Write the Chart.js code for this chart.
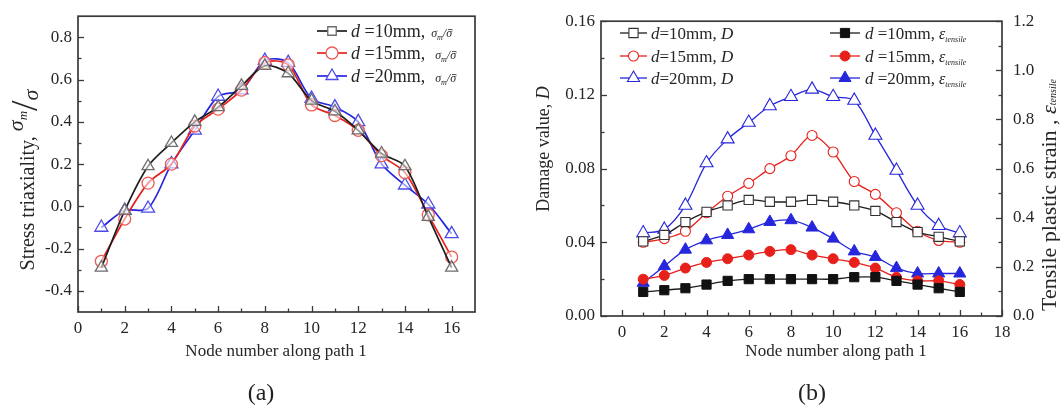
<!DOCTYPE html>
<html>
<head>
<meta charset="utf-8">
<script src="https://cdn.jsdelivr.net/npm/chart.js@4.4.1/dist/chart.umd.min.js"></script>
<style>
  html, body { margin: 0; padding: 0; background: #fff; }
  #wrap { position: relative; width: 1060px; height: 408px; overflow: hidden; background: #fff; }
  .pane { position: absolute; top: 0; width: 530px; height: 408px; }
  #pa { left: 0; }
  #pb { left: 530px; }
  .cap { position: absolute; top: 378px; transform: translateX(-50%); font: 24px "Liberation Serif", "Times New Roman", serif; color: #222; line-height: 28px; }
</style>
</head>
<body>
<div id="wrap">
  <div class="pane" id="pa"><canvas id="ca" width="530" height="408"></canvas></div>
  <div class="pane" id="pb"><canvas id="cb" width="530" height="408"></canvas></div>
  <div class="cap" style="left:261px">(a)</div>
  <div class="cap" style="left:812px">(b)</div>
</div>
<script>
// ---------- data ----------
const nodes = [1, 2, 3, 4, 5, 6, 7, 8, 9, 10, 11, 12, 13, 14, 15, 16];

// (a) stress triaxiality sigma_m / sigma_bar along path 1
const triaxD10 = [-0.29, -0.02, 0.19, 0.30, 0.40, 0.47, 0.57, 0.665, 0.63, 0.50, 0.45, 0.36, 0.25, 0.19, -0.05, -0.29];
const triaxD15 = [-0.26, -0.06, 0.11, 0.20, 0.38, 0.46, 0.55, 0.68, 0.67, 0.48, 0.43, 0.36, 0.24, 0.16, -0.04, -0.24];
const triaxD20 = [-0.10, -0.02, -0.01, 0.20, 0.36, 0.52, 0.55, 0.69, 0.68, 0.51, 0.47, 0.40, 0.20, 0.10, 0.01, -0.13];

// (b) damage value D (left axis)
const damageD10 = [0.0405, 0.044, 0.051, 0.0565, 0.060, 0.063, 0.062, 0.062, 0.063, 0.062, 0.060, 0.057, 0.051, 0.0455, 0.043, 0.0405];
const damageD15 = [0.040, 0.042, 0.046, 0.056, 0.065, 0.072, 0.080, 0.087, 0.098, 0.089, 0.073, 0.066, 0.056, 0.046, 0.041, 0.040];
const damageD20 = [0.045, 0.047, 0.060, 0.083, 0.096, 0.105, 0.114, 0.119, 0.123, 0.119, 0.117, 0.098, 0.079, 0.060, 0.049, 0.045];

// (b) tensile plastic strain (right axis)
const strainD10 = [0.098, 0.105, 0.113, 0.128, 0.143, 0.150, 0.150, 0.150, 0.150, 0.150, 0.158, 0.158, 0.143, 0.128, 0.113, 0.098];
const strainD15 = [0.150, 0.165, 0.195, 0.218, 0.233, 0.248, 0.263, 0.270, 0.248, 0.233, 0.218, 0.195, 0.158, 0.143, 0.143, 0.128];
const strainD20 = [0.135, 0.203, 0.270, 0.308, 0.330, 0.353, 0.383, 0.390, 0.360, 0.315, 0.263, 0.240, 0.195, 0.173, 0.173, 0.173];

// tick values
const xTicksA = [0, 2, 4, 6, 8, 10, 12, 14, 16];
const yTicksA = [-0.4, -0.2, 0.0, 0.2, 0.4, 0.6, 0.8];
const xTicksB = [0, 2, 4, 6, 8, 10, 12, 14, 16, 18];
const yTicksDamage = [0.00, 0.04, 0.08, 0.12, 0.16];
const yTicksStrain = [0.0, 0.2, 0.4, 0.6, 0.8, 1.0, 1.2];

// ---------- styling helpers ----------
const SERIF = '"Liberation Serif", "Times New Roman", serif';
const TEXT = '#262626';
const AXIS = '#3a3a3a';
const BLACK = '#1e1e1e', GREY = '#6c6c6c', RED = '#e8201c', BLUE = '#2626dc';

function fnt(size, italic) { return (italic ? 'italic ' : '') + size + 'px ' + SERIF; }
function pts(vals) { return nodes.map((n, i) => ({ x: n, y: vals[i] })); }

// mixed-font text run; align 'center' or 'left' along the run direction
function richText(ctx, segs, x, y, rot, align) {
  ctx.save();
  ctx.translate(x, y);
  if (rot) ctx.rotate(rot);
  ctx.textAlign = 'left';
  ctx.textBaseline = 'alphabetic';
  let w = 0;
  for (const s of segs) { ctx.font = fnt(s.size, s.it); s._w = ctx.measureText(s.t).width; w += s._w + (s.gap || 0); }
  let cx = align === 'left' ? 0 : -w / 2;
  for (const s of segs) {
    cx += (s.gap || 0);
    ctx.font = fnt(s.size, s.it);
    ctx.fillStyle = s.color || TEXT;
    ctx.fillText(s.t, cx, s.dy || 0);
    if (s.bar) {
      // overbar (sigma bar)
      const by = (s.dy || 0) - s.size * 0.62;
      ctx.strokeStyle = s.color || TEXT;
      ctx.lineWidth = 0.8;
      ctx.beginPath(); ctx.moveTo(cx + s._w * 0.3, by); ctx.lineTo(cx + s._w * 1.05, by); ctx.stroke();
    }
    cx += s._w;
  }
  ctx.restore();
}

function marker(ctx, style, x, y, r, stroke, fill, lw) {
  ctx.save();
  ctx.beginPath();
  if (style === 'circle') {
    ctx.arc(x, y, r, 0, Math.PI * 2);
  } else if (style === 'rect') {
    const h = r * Math.SQRT1_2;
    ctx.rect(x - h, y - h, 2 * h, 2 * h);
  } else {
    let a = 0;
    for (let k = 0; k < 3; k++) {
      const px = x + Math.sin(a) * r, py = y - Math.cos(a) * r;
      if (k === 0) ctx.moveTo(px, py); else ctx.lineTo(px, py);
      a += Math.PI * 2 / 3;
    }
    ctx.closePath();
  }
  ctx.fillStyle = fill; ctx.fill();
  ctx.lineWidth = lw; ctx.strokeStyle = stroke; ctx.stroke();
  ctx.restore();
}

// frame, inward ticks, axis titles and in-plot legend
const decor = {
  id: 'decor',
  afterDraw(chart, args, o) {
    const ctx = chart.ctx, ca = chart.chartArea;
    ctx.save();
    ctx.strokeStyle = AXIS;
    ctx.lineWidth = 1.3;
    for (const id of Object.keys(chart.scales)) {
      const s = chart.scales[id];
      const vals = s.ticks.map(t => t.value);
      const minors = [];
      for (let i = 0; i < vals.length - 1; i++) minors.push((vals[i] + vals[i + 1]) / 2);
      const tick = (v, len) => {
        const p = Math.round(s.getPixelForValue(v)) + 0.5;
        ctx.beginPath();
        if (s.isHorizontal()) { ctx.moveTo(p, ca.bottom); ctx.lineTo(p, ca.bottom - len); }
        else if (s.position === 'left') { ctx.moveTo(ca.left, p); ctx.lineTo(ca.left + len, p); }
        else { ctx.moveTo(ca.right, p); ctx.lineTo(ca.right - len, p); }
        ctx.stroke();
      };
      vals.forEach(v => tick(v, 6));
      minors.forEach(v => tick(v, 3.5));
    }
    ctx.lineWidth = 1.7;
    ctx.strokeRect(ca.left, ca.top, ca.right - ca.left, ca.bottom - ca.top);
    ctx.restore();

    (o.titles || []).forEach(t => richText(ctx, t.segs, t.x, t.y, t.rot, t.align));

    (o.legend || []).forEach(e => {
      ctx.save();
      ctx.strokeStyle = e.line; ctx.lineWidth = e.lw;
      ctx.beginPath(); ctx.moveTo(e.x0, e.y); ctx.lineTo(e.x1, e.y); ctx.stroke();
      ctx.restore();
      marker(ctx, e.style, (e.x0 + e.x1) / 2, e.y, e.r, e.stroke, e.fill, e.mlw);
      richText(ctx, e.segs, e.tx, e.y + 6, 0, 'left');
    });
  }
};

function linearAxis(min, max, tickVals, digits, pos, fit, pad) {
  return {
    type: 'linear', position: pos, min: min, max: max,
    afterBuildTicks: s => { s.ticks = tickVals.map(v => ({ value: v })); },
    afterFit: s => { if (s.isHorizontal()) s.height = fit; else s.width = fit; },
    grid: { display: false, drawTicks: false },
    border: { display: false },
    ticks: {
      autoSkip: false, maxRotation: 0, padding: pad, color: TEXT,
      font: { family: SERIF, size: 17 },
      callback: v => digits === 0 ? String(v) : Number(v).toFixed(digits)
    },
    title: { display: false }
  };
}

// ---------- (a) stress triaxiality ----------
const sigSegs = (g) => [
  { t: 'σ', size: 12, it: true, gap: g },
  { t: 'm', size: 8, it: true, dy: 3 },
  { t: '/', size: 12, it: true },
  { t: 'σ', size: 12, it: true, bar: true }
];

new Chart(document.getElementById('ca'), {
  type: 'line',
  data: {
    datasets: [
      { label: 'd =10mm, σm/σ̄', data: pts(triaxD10), borderColor: BLACK, borderWidth: 1.7,
        pointStyle: 'triangle', pointRadius: 7, pointBorderColor: GREY, pointBackgroundColor: 'rgba(255,255,255,0.55)', pointBorderWidth: 1.3, tension: 0.3 },
      { label: 'd =15mm, σm/σ̄', data: pts(triaxD15), borderColor: RED, borderWidth: 1.7,
        pointStyle: 'circle', pointRadius: 6, pointBorderColor: '#ee5a55', pointBackgroundColor: 'rgba(255,255,255,0.55)', pointBorderWidth: 1.3, tension: 0.3 },
      { label: 'd =20mm, σm/σ̄', data: pts(triaxD20), borderColor: BLUE, borderWidth: 1.7,
        pointStyle: 'triangle', pointRadius: 7.5, pointBorderColor: '#4b4bea', pointBackgroundColor: 'rgba(255,255,255,0.55)', pointBorderWidth: 1.3, tension: 0.3 }
    ]
  },
  options: {
    responsive: false, animation: false, events: [],
    layout: { padding: { left: 0, right: 55, top: 12, bottom: 56 } },
    scales: {
      x: linearAxis(0, 17, xTicksA, 0, 'bottom', 40, 6),
      y: linearAxis(-0.5, 0.9, yTicksA, 1, 'left', 78, 6)
    },
    plugins: {
      legend: { display: false },
      tooltip: { enabled: false },
      decor: {
        titles: [
          { x: 276, y: 356, segs: [{ t: 'Node number along path 1', size: 17 }] },
          { x: 34, y: 180, rot: -Math.PI / 2, segs: [
            { t: 'Stress triaxiality, ', size: 20 },
            { t: 'σ', size: 22, it: true, dy: -11 },
            { t: 'm', size: 13, it: true, dy: -7 },
            { t: '/', size: 38, dy: 3 },
            { t: 'σ', size: 22, it: true, dy: 4 }
          ] }
        ],
        legend: [
          { x0: 317, x1: 347, y: 31, line: BLACK, lw: 1.7, style: 'rect', r: 6, stroke: GREY, fill: '#fff', mlw: 1.3, tx: 351,
            segs: [{ t: 'd', size: 18, it: true }, { t: ' =10mm,', size: 18 }].concat(sigSegs(6)) },
          { x0: 317, x1: 347, y: 53, line: RED, lw: 1.7, style: 'circle', r: 6, stroke: '#ee5a55', fill: '#fff', mlw: 1.3, tx: 351,
            segs: [{ t: 'd', size: 18, it: true }, { t: ' =15mm,', size: 18 }].concat(sigSegs(10)) },
          { x0: 317, x1: 347, y: 76, line: BLUE, lw: 1.7, style: 'triangle', r: 7, stroke: '#4b4bea', fill: '#fff', mlw: 1.3, tx: 351,
            segs: [{ t: 'd', size: 18, it: true }, { t: ' =20mm,', size: 18 }].concat(sigSegs(10)) }
        ]
      }
    }
  },
  plugins: [decor]
});

// ---------- (b) damage value and tensile plastic strain ----------
const epsSegs = [
  { t: 'ε', size: 16, it: true, gap: 4 },
  { t: 'tensile', size: 8, it: true, dy: 3 }
];

new Chart(document.getElementById('cb'), {
  type: 'line',
  data: {
    datasets: [
      { label: 'd=10mm, D', yAxisID: 'yD', data: pts(damageD10), borderColor: BLACK, borderWidth: 1.3,
        pointStyle: 'rect', pointRadius: 6.5, pointBorderColor: '#333', pointBackgroundColor: '#fff', pointBorderWidth: 1.1, tension: 0.3 },
      { label: 'd=15mm, D', yAxisID: 'yD', data: pts(damageD15), borderColor: RED, borderWidth: 1.3,
        pointStyle: 'circle', pointRadius: 5, pointBorderColor: RED, pointBackgroundColor: '#fff', pointBorderWidth: 1.1, tension: 0.3 },
      { label: 'd=20mm, D', yAxisID: 'yD', data: pts(damageD20), borderColor: BLUE, borderWidth: 1.3,
        pointStyle: 'triangle', pointRadius: 7.5, pointBorderColor: BLUE, pointBackgroundColor: '#fff', pointBorderWidth: 1.1, tension: 0.3 },
      { label: 'd =10mm, ε tensile', yAxisID: 'yE', data: pts(strainD10), borderColor: BLACK, borderWidth: 1.3,
        pointStyle: 'rect', pointRadius: 6.5, pointBorderColor: '#111', pointBackgroundColor: '#111', pointBorderWidth: 1, tension: 0.3 },
      { label: 'd =15mm, ε tensile', yAxisID: 'yE', data: pts(strainD15), borderColor: RED, borderWidth: 1.3,
        pointStyle: 'circle', pointRadius: 5, pointBorderColor: RED, pointBackgroundColor: RED, pointBorderWidth: 1, tension: 0.3 },
      { label: 'd =20mm, ε tensile', yAxisID: 'yE', data: pts(strainD20), borderColor: BLUE, borderWidth: 1.3,
        pointStyle: 'triangle', pointRadius: 7, pointBorderColor: BLUE, pointBackgroundColor: BLUE, pointBorderWidth: 1, tension: 0.3 }
    ]
  },
  options: {
    responsive: false, animation: false, events: [],
    layout: { padding: { left: 0, right: 0, top: 16, bottom: 52 } },
    scales: {
      x: linearAxis(-1, 18, xTicksB, 0, 'bottom', 40, 6),
      yD: linearAxis(0, 0.16, yTicksDamage, 2, 'left', 71, 6),
      yE: linearAxis(0, 1.2, yTicksStrain, 1, 'right', 58, 11)
    },
    plugins: {
      legend: { display: false },
      tooltip: { enabled: false },
      decor: {
        titles: [
          { x: 306, y: 356, segs: [{ t: 'Node number along path 1', size: 17 }] },
          { x: 19, y: 149, rot: -Math.PI / 2, segs: [{ t: 'Damage value, ', size: 18 }, { t: 'D', size: 18, it: true }] },
          { x: 526, y: 195, rot: -Math.PI / 2, segs: [
            { t: 'Tensile plastic strain , ', size: 22 },
            { t: 'ε', size: 22, it: true },
            { t: 'tensile', size: 10, it: true, dy: 0 }
          ] }
        ],
        legend: [
          { x0: 90, x1: 117, y: 33, line: BLACK, lw: 1.3, style: 'rect', r: 6.5, stroke: '#333', fill: '#fff', mlw: 1.1, tx: 121,
            segs: [{ t: 'd', size: 17, it: true }, { t: '=10mm, ', size: 17 }, { t: 'D', size: 17, it: true }] },
          { x0: 90, x1: 117, y: 56, line: RED, lw: 1.3, style: 'circle', r: 5, stroke: RED, fill: '#fff', mlw: 1.1, tx: 121,
            segs: [{ t: 'd', size: 17, it: true }, { t: '=15mm, ', size: 17 }, { t: 'D', size: 17, it: true }] },
          { x0: 90, x1: 117, y: 78, line: BLUE, lw: 1.3, style: 'triangle', r: 7, stroke: BLUE, fill: '#fff', mlw: 1.1, tx: 121,
            segs: [{ t: 'd', size: 17, it: true }, { t: '=20mm, ', size: 17 }, { t: 'D', size: 17, it: true }] },
          { x0: 300, x1: 330, y: 33, line: BLACK, lw: 1.3, style: 'rect', r: 6.5, stroke: '#111', fill: '#111', mlw: 1, tx: 335,
            segs: [{ t: 'd', size: 17, it: true }, { t: ' =10mm,', size: 17 }].concat(epsSegs) },
          { x0: 300, x1: 330, y: 56, line: RED, lw: 1.3, style: 'circle', r: 5, stroke: RED, fill: RED, mlw: 1, tx: 335,
            segs: [{ t: 'd', size: 17, it: true }, { t: ' =15mm,', size: 17 }].concat(epsSegs) },
          { x0: 300, x1: 330, y: 78, line: BLUE, lw: 1.3, style: 'triangle', r: 7, stroke: BLUE, fill: BLUE, mlw: 1, tx: 335,
            segs: [{ t: 'd', size: 17, it: true }, { t: ' =20mm,', size: 17 }].concat(epsSegs) }
        ]
      }
    }
  },
  plugins: [decor]
});
</script>
</body>
</html>
